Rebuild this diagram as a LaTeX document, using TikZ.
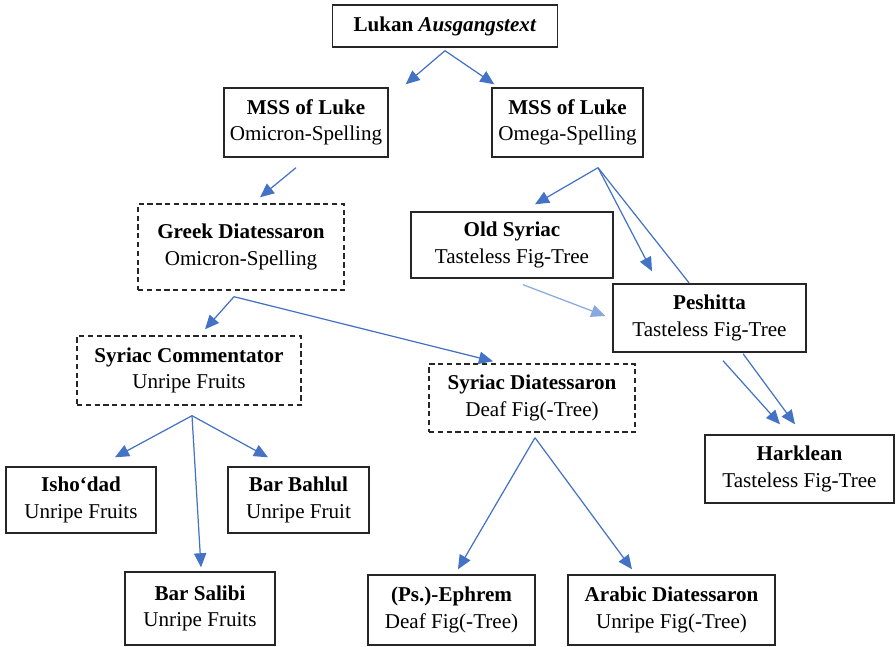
\documentclass[tikz,border=0pt]{standalone}
\usepackage{fontspec}
\setmainfont{Liberation Serif}
\usetikzlibrary{arrows.meta,calc}
\definecolor{linkblue}{HTML}{4472C4}
\definecolor{paleblue}{HTML}{8AA8E0}

\begin{document}
\begin{tikzpicture}[
    box/.style={draw=black!85, line width=0.8pt, align=center, inner sep=2pt,
                font=\fontsize{12}{15}\selectfont},
    lost/.style={box, dash pattern=on 3pt off 2pt},
    link/.style={-{Triangle[length=8pt,width=7pt]}, draw=linkblue, line width=0.7pt},
    joint/.style={draw=linkblue, line width=0.7pt}
]
    \useasboundingbox (0,0) rectangle (17.92,-12.94);

    % Nodes
    \node[box, minimum width=4.50cm, minimum height=0.84cm] (lukan) at (8.90,-0.52) {\textbf{Lukan \textit{Ausgangstext}}};
    \node[box, minimum width=3.28cm, minimum height=1.38cm] (omicron) at (6.12,-2.45) {\textbf{MSS of Luke}\\Omicron-Spelling};
    \node[box, minimum width=3.02cm, minimum height=1.38cm] (omega) at (11.35,-2.45) {\textbf{MSS of Luke}\\Omega-Spelling};
    \node[lost, minimum width=4.12cm, minimum height=1.72cm] (greekdia) at (4.82,-4.94) {\textbf{Greek Diatessaron}\\Omicron-Spelling};
    \node[box, minimum width=4.04cm, minimum height=1.32cm] (oldsyr) at (10.24,-4.90) {\textbf{Old Syriac}\\Tasteless Fig-Tree};
    \node[box, minimum width=3.86cm, minimum height=1.36cm] (peshitta) at (14.19,-6.36) {\textbf{Peshitta}\\Tasteless Fig-Tree};
    \node[lost, minimum width=4.48cm, minimum height=1.38cm] (comment) at (3.78,-7.41) {\textbf{Syriac Commentator}\\Unripe Fruits};
    \node[lost, minimum width=4.12cm, minimum height=1.36cm] (syrdia) at (10.64,-7.96) {\textbf{Syriac Diatessaron}\\Deaf Fig(-Tree)};
    \node[box, minimum width=3.78cm, minimum height=1.36cm] (harklean) at (15.99,-9.38) {\textbf{Harklean}\\Tasteless Fig-Tree};
    \node[box, minimum width=3.00cm, minimum height=1.32cm] (ishodad) at (1.62,-10.00) {\textbf{Isho‘dad}\\Unripe Fruits};
    \node[box, minimum width=2.82cm, minimum height=1.32cm] (bahlul) at (5.97,-10.00) {\textbf{Bar Bahlul}\\Unripe Fruit};
    \node[box, minimum width=3.00cm, minimum height=1.46cm] (salibi) at (4.00,-12.17) {\textbf{Bar Salibi}\\Unripe Fruits};
    \node[box, minimum width=3.34cm, minimum height=1.40cm] (ephrem) at (9.03,-12.20) {\textbf{(Ps.)-Ephrem}\\Deaf Fig(-Tree)};
    \node[box, minimum width=4.14cm, minimum height=1.40cm] (arabic) at (13.43,-12.20) {\textbf{Arabic Diatessaron}\\Unripe Fig(-Tree)};

    % Fork points
    \coordinate (lukanfork) at ($(lukan.south)+(0,-0.06)$);
    \coordinate (omegafork) at ($(omega.south)+(0.61,-0.20)$);
    \coordinate (greekfork) at ($(greekdia.south)+(-0.14,-0.12)$);
    \coordinate (commentfork) at ($(comment.south)+(0.06,-0.20)$);
    \coordinate (syrdiafork) at ($(syrdia.south)+(0.06,-0.10)$);

    % Arrows
    \draw[link] (lukanfork) -- ($(omicron.north east)+(0.34,0.06)$);
    \draw[link] (lukanfork) -- ($(omega.north west)+(0.06,0.06)$);
    \draw[link] ($(omicron.south)+(-0.20,-0.20)$) -- ($(greekdia.north)+(0.38,0.12)$);
    \draw[link] (omegafork) -- ($(oldsyr.north)+(0.46,0.14)$);
    \draw[link] (omegafork) -- ($(peshitta.north)+(-1.15,0.24)$);
    \draw[joint] (omegafork) -- ($(peshitta.north)+(-0.41,0.01)$);
    \draw[link, draw=paleblue] ($(oldsyr.south)+(0.22,-0.12)$) -- ($(peshitta.west)+(-0.14,0.04)$);
    \draw[link] (greekfork) -- ($(comment.north)+(0.32,0.12)$);
    \draw[link] (greekfork) -- ($(syrdia.north)+(-0.78,0.04)$);
    \draw[link] (commentfork) -- ($(ishodad.north)+(0.68,0.18)$);
    \draw[link] (commentfork) -- ($(salibi.north)+(0.02,0.08)$);
    \draw[link] (commentfork) -- ($(bahlul.north)+(-0.61,0.18)$);
    \draw[link] (syrdiafork) -- ($(ephrem.north)+(0.13,0.10)$);
    \draw[link] (syrdiafork) -- ($(arabic.north)+(-0.79,0.10)$);
    \draw[link] ($(peshitta.south)+(0.27,-0.16)$) -- ($(harklean.north)+(-0.39,0.20)$);
    \draw[link] ($(peshitta.south)+(0.67,-0.02)$) -- ($(harklean.north)+(-0.09,0.20)$);
\end{tikzpicture}
\end{document}
